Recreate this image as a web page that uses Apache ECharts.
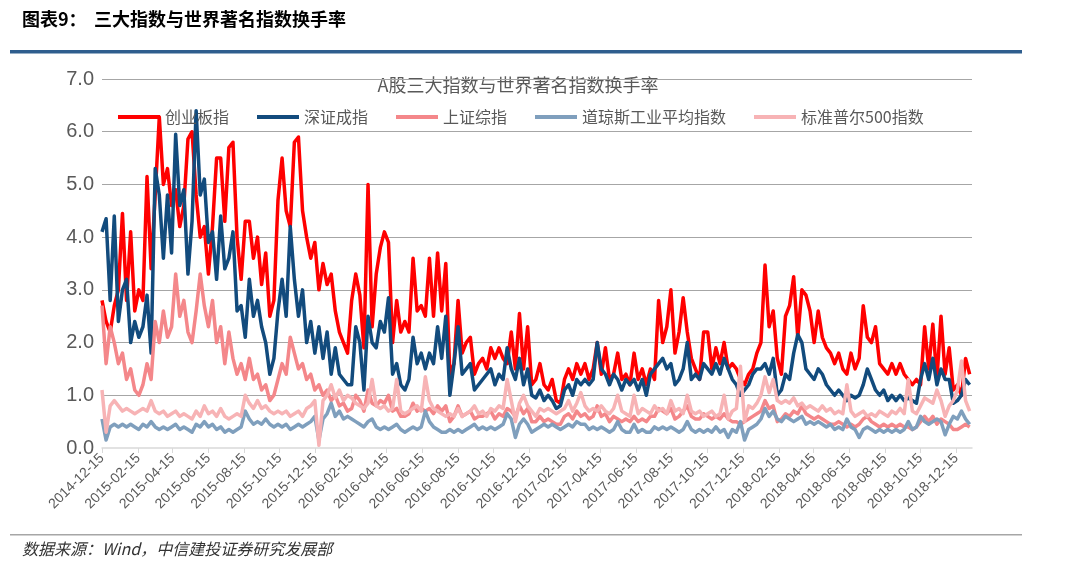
<!DOCTYPE html>
<html><head><meta charset="utf-8">
<script src="https://cdn.jsdelivr.net/npm/echarts@6/dist/echarts.min.js"></script>
<style>html,body{margin:0;padding:0;background:#fff}#c{width:1080px;height:567px}</style>
</head><body><div id="c"></div>
<script>
// weekly samples starting 2014-12-15
const firstDate = '2014-12-15';
const axisEnd = '2019-01-11';
const tickLabels = ['2014-12-15','2015-02-15','2015-04-15','2015-06-15','2015-08-15','2015-10-15','2015-12-15',
  '2016-02-15','2016-04-15','2016-06-15','2016-08-15','2016-10-15','2016-12-15',
  '2017-02-15','2017-04-15','2017-06-15','2017-08-15','2017-10-15','2017-12-15',
  '2018-02-15','2018-04-15','2018-06-15','2018-08-15','2018-10-15','2018-12-15'];
const seriesNames = ['创业板指','深证成指','上证综指','道琼斯工业平均指数','标准普尔500指数'];

const cyb = [
2.8,2.4,2.2,2.7,3.0,4.45,2.8,4.1,2.6,3.0,
2.8,5.15,3.4,4.8,6.28,5.0,5.3,4.6,4.9,4.2,
4.6,5.86,6.0,4.8,4.0,4.2,3.3,4.2,5.5,5.5,
4.3,5.7,5.8,4.0,3.2,4.3,4.3,3.6,4.0,3.1,
3.7,2.5,2.8,4.7,5.5,4.5,4.2,5.8,5.9,4.5,
4.0,3.6,3.9,3.0,3.5,3.1,3.3,2.6,2.2,2.0,
1.8,2.8,3.3,2.9,1.9,5.0,2.3,3.3,3.8,4.1,
3.9,2.0,2.8,2.2,2.4,2.2,3.6,2.6,2.7,2.5,
3.6,2.5,3.7,2.6,3.5,1.4,1.6,2.8,1.8,2.0,
2.1,1.4,1.6,1.7,1.5,1.9,1.7,1.9,1.7,1.6,
2.2,1.5,2.55,1.5,2.3,1.2,1.3,1.6,1.2,1.1,
1.3,0.9,0.85,1.3,1.5,1.3,1.6,1.4,1.6,1.3,
1.5,2.0,1.4,1.9,1.3,1.4,1.8,1.3,1.4,1.2,
1.8,1.3,1.5,1.2,1.5,1.3,2.8,2.0,2.3,3.0,
1.8,2.2,2.85,2.2,1.7,1.5,1.3,2.2,2.2,1.5,
1.9,1.6,2.0,1.5,1.6,1.5,1.3,1.2,1.4,1.5,
1.8,2.0,3.47,2.3,2.6,1.7,1.4,2.5,2.7,3.25,
2.1,3.0,2.9,2.6,2.0,2.6,2.1,1.9,1.8,1.6,
1.8,1.5,1.4,1.8,1.5,1.7,2.7,2.1,2.0,2.3,
1.6,1.5,1.4,1.6,1.4,1.6,1.4,1.3,1.2,1.3,
1.2,2.3,1.5,2.35,1.3,2.5,1.4,1.9,1.1,1.2,
1.0,1.7,1.4];

const szcz = [
4.1,4.35,2.8,4.4,2.4,3.0,3.2,2.0,2.4,2.1,
2.3,2.9,1.8,5.3,4.8,3.6,4.8,3.7,5.95,4.6,
4.9,3.3,4.3,6.4,4.8,5.1,3.9,4.1,3.2,4.4,
3.4,3.6,4.1,2.6,2.7,2.1,3.2,2.5,2.8,2.3,
2.0,1.4,1.7,2.6,3.2,2.5,4.2,3.2,2.5,3.0,
2.0,2.4,1.8,2.3,1.7,2.2,1.4,1.9,1.4,1.3,
1.2,1.2,2.3,2.0,1.1,2.5,2.0,1.9,2.4,2.2,
2.85,1.4,1.6,1.2,1.1,1.3,2.1,1.6,1.8,1.5,
1.8,1.6,2.3,1.7,2.5,1.0,1.6,2.3,1.4,1.5,
1.6,1.1,1.2,1.3,1.4,1.5,1.2,1.4,1.3,1.9,
1.5,1.3,1.7,1.2,1.5,1.0,0.95,1.1,0.9,1.0,
0.9,0.75,0.8,1.1,1.2,1.0,1.3,1.2,1.3,1.2,
1.3,2.0,1.5,1.4,1.2,1.4,1.3,1.1,1.3,1.2,
1.3,1.1,1.3,1.0,1.4,1.5,1.6,1.7,1.5,1.6,
1.2,1.3,1.5,2.0,1.3,1.4,1.3,1.6,1.5,1.4,
1.6,1.4,1.7,1.5,1.3,1.2,1.0,1.1,1.2,1.4,
1.5,1.5,1.6,1.4,1.7,1.0,1.1,1.4,1.3,1.8,
2.15,2.0,1.5,1.4,1.3,1.5,1.4,1.2,1.1,1.0,
1.1,1.0,0.9,1.0,0.95,1.0,1.2,1.5,1.3,1.1,
1.0,1.1,0.9,1.0,0.9,1.0,0.9,0.95,0.9,0.85,
1.3,1.6,1.3,1.7,1.2,1.5,1.3,1.3,0.85,0.9,
1.0,1.3,1.2];

const szzz = [
2.7,1.6,2.3,2.0,1.6,1.8,1.3,1.5,1.1,1.0,
1.2,1.6,1.3,2.4,2.0,2.6,2.1,2.3,3.3,2.5,
2.8,2.2,2.0,2.6,3.3,2.7,2.3,2.8,2.0,2.3,
1.6,2.2,1.7,1.4,1.6,1.3,1.7,1.3,1.4,1.1,
1.2,0.9,1.0,1.3,1.6,1.4,2.1,1.8,1.5,1.6,
1.3,1.4,1.1,1.2,1.0,1.1,0.9,1.0,0.8,0.85,
0.7,0.75,1.0,0.9,0.7,1.1,0.85,0.8,0.9,0.85,
1.0,0.7,0.75,0.6,0.6,0.65,0.85,0.7,0.75,0.7,
0.75,0.65,0.8,0.7,0.8,0.5,0.6,0.8,0.6,0.65,
0.7,0.55,0.6,0.6,0.65,0.7,0.55,0.65,0.6,0.75,
0.7,0.6,0.8,0.65,0.75,0.5,0.5,0.6,0.5,0.55,
0.5,0.45,0.45,0.6,0.65,0.55,0.7,0.6,0.65,0.55,
0.6,0.8,0.6,0.65,0.5,0.6,0.55,0.5,0.55,0.5,
0.6,0.5,0.55,0.5,0.6,0.6,0.75,0.7,0.65,0.75,
0.55,0.6,0.7,0.8,0.6,0.55,0.55,0.65,0.6,0.55,
0.6,0.55,0.65,0.55,0.5,0.5,0.45,0.5,0.55,0.6,
0.65,0.7,0.9,0.75,0.8,0.5,0.55,0.65,0.6,0.7,
0.65,0.8,0.65,0.6,0.55,0.6,0.55,0.5,0.45,0.45,
0.5,0.45,0.4,0.45,0.4,0.45,0.55,0.6,0.5,0.45,
0.4,0.45,0.4,0.45,0.4,0.45,0.4,0.4,0.35,0.4,
0.5,0.6,0.5,0.6,0.45,0.55,0.5,0.45,0.35,0.35,
0.4,0.45,0.4];

const dji = [
0.55,0.15,0.4,0.45,0.4,0.45,0.4,0.45,0.4,0.35,
0.45,0.4,0.5,0.4,0.35,0.4,0.35,0.4,0.45,0.35,
0.4,0.35,0.3,0.45,0.4,0.5,0.4,0.45,0.35,0.4,
0.3,0.35,0.3,0.35,0.4,0.7,0.55,0.45,0.5,0.45,
0.55,0.45,0.4,0.45,0.4,0.45,0.35,0.4,0.45,0.4,
0.45,0.5,0.6,0.15,0.55,0.65,0.85,0.6,0.7,0.55,
0.6,0.55,0.5,0.45,0.4,0.5,0.55,0.4,0.35,0.4,
0.35,0.4,0.45,0.35,0.3,0.35,0.4,0.35,0.4,0.7,
0.5,0.4,0.35,0.3,0.3,0.35,0.3,0.35,0.3,0.35,
0.4,0.45,0.35,0.4,0.35,0.4,0.35,0.4,0.45,0.65,
0.55,0.2,0.45,0.55,0.45,0.3,0.35,0.4,0.45,0.4,
0.45,0.4,0.35,0.4,0.45,0.4,0.5,0.45,0.45,0.35,
0.4,0.35,0.4,0.35,0.3,0.35,0.5,0.35,0.3,0.3,
0.45,0.3,0.35,0.3,0.3,0.4,0.35,0.4,0.35,0.4,
0.35,0.3,0.35,0.5,0.35,0.3,0.35,0.3,0.35,0.3,
0.4,0.3,0.35,0.2,0.35,0.3,0.5,0.15,0.35,0.4,
0.45,0.55,0.75,0.6,0.7,0.55,0.5,0.6,0.55,0.5,
0.55,0.6,0.45,0.5,0.45,0.5,0.45,0.4,0.45,0.35,
0.4,0.35,0.55,0.4,0.35,0.2,0.35,0.4,0.35,0.3,
0.35,0.3,0.35,0.3,0.35,0.3,0.35,0.5,0.35,0.4,
0.6,0.5,0.45,0.5,0.55,0.5,0.25,0.45,0.6,0.55,
0.7,0.55,0.45];

const spx = [
1.1,0.3,0.8,0.9,0.8,0.7,0.75,0.7,0.65,0.7,
0.75,0.7,0.9,0.7,0.65,0.7,0.6,0.65,0.7,0.6,
0.65,0.6,0.55,0.7,0.6,0.8,0.65,0.7,0.6,0.75,
0.6,0.55,0.6,0.65,0.6,1.0,0.85,0.75,0.9,0.75,
0.8,0.7,0.65,0.7,0.65,0.7,0.6,0.65,0.7,0.6,
0.75,0.8,0.9,0.05,0.9,1.0,1.2,0.95,1.1,0.9,
1.0,0.95,0.85,0.8,0.75,0.85,1.3,0.8,0.75,0.8,
0.7,0.75,1.3,0.7,0.65,0.7,0.75,0.8,0.7,1.35,
0.9,0.75,0.7,0.65,0.6,0.65,0.6,0.75,0.6,0.65,
0.7,0.8,0.65,0.7,0.6,0.75,0.7,0.8,0.75,1.3,
0.9,0.5,0.85,1.0,0.8,0.7,0.6,0.75,0.7,0.75,
0.7,0.65,0.7,0.75,0.9,0.7,0.85,1.05,0.8,0.7,
0.75,0.7,0.8,0.7,0.65,0.75,1.0,0.7,0.65,0.6,
1.0,0.65,0.75,0.7,0.65,0.8,0.7,0.75,0.65,0.9,
0.7,0.75,0.65,1.0,0.7,0.65,0.7,0.6,0.65,0.7,
0.6,0.65,1.0,0.55,0.7,0.75,1.55,0.5,0.8,0.75,
0.85,1.0,1.35,1.05,1.3,0.9,0.85,0.9,0.85,0.95,
0.8,0.85,0.75,0.8,0.75,0.7,0.8,0.7,0.75,0.65,
0.7,0.65,1.2,0.7,0.6,0.65,0.7,0.6,0.65,0.6,
0.7,0.65,0.6,0.7,0.65,0.75,0.65,1.3,0.7,0.65,
0.8,0.95,0.9,0.85,1.1,0.9,0.6,0.8,0.9,1.1,
1.65,0.9,0.7];

const seriesColors = ['#FF0000','#124B7D','#F4878A','#7F9FBD','#F7B3B5'];

function toTs(s){ const p = s.split('-').map(Number); return new Date(p[0], p[1]-1, p[2]).getTime(); }
const p0 = firstDate.split('-').map(Number);
const weekDates = cyb.map((_, i) => new Date(p0[0], p0[1]-1, p0[2] + 7*i).getTime());
const tickValues = tickLabels.map(toTs);
function pad(n){ return (n<10?'0':'') + n; }
function fmt(v){ const d = new Date(v); return d.getFullYear() + '-' + pad(d.getMonth()+1) + '-' + pad(d.getDate()); }

const allValues = [cyb, szcz, szzz, dji, spx];
const chart = echarts.init(document.getElementById('c'), null, {renderer: 'canvas'});
chart.setOption({
  animation: false,
  backgroundColor: '#ffffff',
  grid: {left: 102, right: 108, top: 79, bottom: 119, containLabel: false},
  legend: {
    left: 118, top: 109, padding: 0, itemWidth: 42, itemHeight: 4, itemGap: 28, icon: 'rect',
    textStyle: {fontSize: 16, color: '#595959', fontFamily: 'Noto Sans CJK SC'},
    data: seriesNames
  },
  xAxis: {
    type: 'value',
    min: toTs(firstDate), max: toTs(axisEnd),
    axisLine: {lineStyle: {color: '#d9d9d9', width: 1.5}},
    axisTick: {show: true, length: 5, lineStyle: {color: '#d9d9d9'}, customValues: tickValues},
    axisLabel: {customValues: tickValues, rotate: 45, fontSize: 14, color: '#595959',
      fontFamily: 'Liberation Sans', margin: 8, formatter: v => fmt(v), hideOverlap: false},
    splitLine: {show: false}
  },
  yAxis: {
    type: 'value', min: 0, max: 7, interval: 1,
    axisLabel: {formatter: v => v.toFixed(1), fontSize: 20, color: '#595959', fontFamily: 'Liberation Sans', margin: 8},
    axisLine: {show: false}, axisTick: {show: false},
    splitLine: {show: true, showMinLine: false, lineStyle: {color: '#a6a6a6', width: 1}}
  },
  series: seriesNames.map((name, k) => ({
    name: name, type: 'line', symbol: 'none', showSymbol: false,
    data: allValues[k].map((v, i) => [weekDates[i], v]),
    lineStyle: {color: seriesColors[k], width: 3.5, join: 'round'},
    itemStyle: {color: seriesColors[k]},
    emphasis: {disabled: true}
  })),
  graphic: [
    {type: 'text', left: 22, top: 10, style: {text: '图表9：', font: 'bold 18px "Noto Sans CJK SC"', fill: '#000'}},
    {type: 'text', left: 94, top: 10, style: {text: '三大指数与世界著名指数换手率', font: 'bold 18px "Noto Sans CJK SC"', fill: '#000'}},
    {type: 'rect', shape: {x: 10, y: 50, width: 1012, height: 3.5}, style: {fill: '#2F5E8E'}},
    {type: 'text', x: 518, y: 85, style: {text: 'A股三大指数与世界著名指数换手率', font: '18px "Noto Sans CJK SC"', fill: '#595959', textAlign: 'center', textVerticalAlign: 'middle'}},
    {type: 'rect', shape: {x: 10, y: 534, width: 1012, height: 1.5}, style: {fill: '#a6a6a6'}},
    {type: 'text', left: 22, top: 541, style: {text: '数据来源：Wind，中信建投证券研究发展部', font: 'italic 16px "Noto Sans CJK SC"', fill: '#333'}}
  ]
});
</script>
</body></html>
